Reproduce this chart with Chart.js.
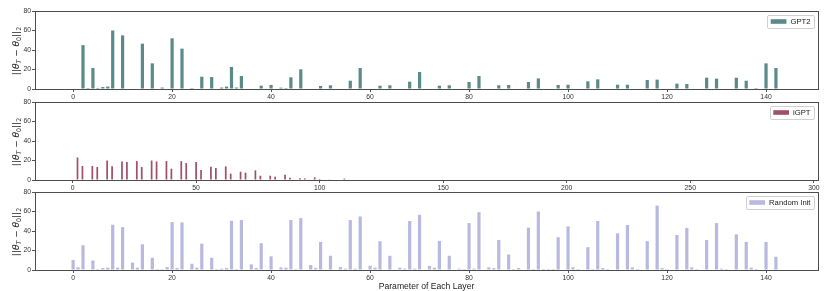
<!DOCTYPE html>
<html>
<head>
<meta charset="utf-8">
<script src="https://cdn.jsdelivr.net/npm/chart.js@4.4.1/dist/chart.umd.min.js"></script>
<style>
html,body{margin:0;padding:0;background:#ffffff;}
#wrap{position:relative;width:830px;height:291px;overflow:hidden;}
canvas{position:absolute;left:0;top:0;}
</style>
</head>
<body>
<div id="wrap">
<canvas id="c1" width="830" height="291"></canvas>
<canvas id="c2" width="830" height="291"></canvas>
<canvas id="c3" width="830" height="291"></canvas>
</div>
<script>
// ---------------- DATA ----------------
const seriesNames = ['GPT2', 'iGPT', 'Random Init'];
const xTitle = 'Parameter of Each Layer';
const yTicks = [0, 20, 40, 60, 80];
const xTicksShort = [0, 20, 40, 60, 80, 100, 120, 140];
const xTicksLong = [0, 50, 100, 150, 200, 250, 300];

const gpt2Values = [
  0.5, 0, 45, 1, 21.5, 1, 2, 2.5, 60, 0.5, 55, 0,
  0.5, 0, 46.5, 0.5, 26.3, 0, 1.5, 0.5, 52, 0.5, 41.4, 0,
  1, 0, 12.6, 0.5, 12.3, 0.5, 1.5, 2.5, 22.6, 1.5, 13.3, 0,
  0, 0, 3.4, 0, 4.2, 0.5, 1.4, 1, 12, 0, 20.2, 0,
  0, 0, 3.1, 0, 3.8, 0.5, 0.5, 0.5, 8.5, 0, 21.5, 0,
  0, 0, 3.4, 0, 3.8, 0.5, 0.5, 0, 7.5, 0, 17.4, 0,
  0, 0, 3.4, 0, 3.8, 0.5, 0.5, 0, 7.2, 0, 13.3, 0,
  0, 0, 3.8, 0, 4.1, 0.5, 0.5, 0, 7.2, 0, 10.9, 0,
  0, 0, 4.1, 0, 4.4, 0.5, 0.5, 0, 7.9, 0, 9.9, 0,
  0, 0, 4.4, 0, 4.4, 0.5, 0.5, 0, 9.2, 0, 9.6, 0,
  0, 0, 5.5, 0, 5.1, 0.5, 0.5, 0, 11.6, 0, 10.6, 0,
  0.5, 0, 11.6, 0, 8.5, 0, 1, 0, 26.3, 0, 21.5, 0
];

const igptValues = [
  0, 0, 23.1, 0, 14.3, 0, 0, 0, 14.3, 0, 13.3, 0,
  0, 0, 20, 0, 14, 0, 0, 0, 19, 0, 18.4, 0,
  0, 0, 19.4, 0, 13.3, 0, 0, 0, 20, 0, 19, 0,
  0, 0, 19.4, 0, 11.6, 0, 0, 0, 19.4, 0, 17.4, 0,
  0, 0, 18.4, 0, 10.2, 0, 0, 0, 13.6, 0, 12.3, 0,
  0, 0, 14, 0, 6.5, 0, 0, 0, 8.5, 0, 7.5, 0,
  0, 0, 9.9, 0, 4.4, 0, 0, 0, 4.4, 0, 3.4, 0,
  0, 0, 5.4, 0, 2.4, 0, 0, 0, 1.7, 0, 1.7, 0,
  0, 0, 2.7, 0, 1, 0, 0, 0, 0.7, 0, 0, 0,
  0, 0, 1.4, 0, 0, 0, 0, 0, 0, 0, 0, 0,
  0, 0, 0, 0, 0, 0, 0, 0, 0, 0, 0, 0,
  0, 0, 0, 0, 0, 0, 0, 0, 0, 0, 0, 0,
  0, 0, 0, 0, 0, 0, 0, 0, 0, 0, 0, 0,
  0, 0, 0, 0, 0, 0, 0, 0, 0, 0, 0, 0,
  0, 0, 0, 0, 0, 0, 0, 0, 0, 0, 0, 0,
  0, 0, 0, 0, 0, 0, 0, 0, 0, 0, 0, 0,
  0, 0, 0, 0, 0, 0, 0, 0, 0, 0, 0, 0,
  0, 0, 0, 0, 0, 0, 0, 0, 0, 0, 0, 0,
  0, 0, 0, 0, 0, 0, 0, 0, 0, 0, 0, 0,
  0, 0, 0, 0, 0, 0, 0, 0, 0, 0, 0, 0,
  0, 0, 0, 0, 0, 0, 0, 0, 0, 0, 0, 0,
  0, 0, 0, 0, 0, 0, 0, 0, 0, 0, 0, 0,
  0, 0, 0, 0, 0, 0, 0, 0, 0, 0, 0, 0,
  0, 0, 0, 0, 0, 0, 0, 0, 0, 0, 0, 0
];

const randomInitValues = [
  10.2, 2.7, 25.4, 0, 9.8, 1, 2, 2.4, 46.4, 2.4, 44, 0,
  7.5, 2.4, 26.4, 0, 12.5, 1, 1, 3, 49.2, 2, 48.8, 0,
  6.4, 2.4, 27.1, 0, 12.5, 1, 1.4, 2, 50.5, 1, 51.2, 0,
  5.8, 2, 27.5, 0, 14, 0, 2.7, 2.4, 51.2, 1, 53.2, 0,
  5.1, 2, 28.8, 0, 14.6, 0, 3, 1.4, 51.2, 1.4, 54.9, 0,
  4.4, 2.4, 29.5, 0, 14.6, 0, 2.4, 1.4, 50.2, 1.4, 56.6, 0,
  4.1, 2.4, 29.8, 0, 14.6, 0, 1.4, 1, 48.1, 1.4, 59.3, 0,
  2.7, 2, 30.8, 0, 15.9, 1, 2, 0, 43.4, 1, 60, 1,
  1, 1, 33.6, 0, 44.7, 2.7, 1, 0, 23.4, 1, 50.2, 2,
  1, 0, 37.6, 0, 46.1, 2.7, 1, 0, 29.5, 0, 66.1, 2,
  1, 0, 35.9, 0, 43, 2.7, 1, 0, 30.8, 0, 48.1, 1.4,
  1, 0, 36.6, 0, 28.8, 2.4, 1, 0, 28.8, 0, 13.6, 0
];

const seriesColors = ['#5b8b88', '#a0506e', '#b9b9e0'];

// ---------------- PLUGINS ----------------
const framePlugin = {
  id: 'frame',
  afterDraw(chart) {
    const a = chart.chartArea, ctx = chart.ctx;
    ctx.save();
    ctx.strokeStyle = '#4d4d4d';
    ctx.lineWidth = 1;
    ctx.strokeRect(Math.floor(a.left) + 0.5, Math.floor(a.top) + 0.5,
                   Math.round(a.right - a.left), Math.round(a.bottom - a.top));
    ctx.restore();
  }
};

const boxLegendPlugin = {
  id: 'boxLegend',
  afterDraw(chart) {
    const ds = chart.data.datasets[0];
    const a = chart.chartArea, ctx = chart.ctx;
    ctx.save();
    ctx.font = '7.7px "Liberation Sans", Arial, sans-serif';
    const tw = ctx.measureText(ds.label).width;
    const h = 13, right = a.right - 4, top = a.top + 4;
    const w = tw + 3.3 + 15.7 + 4 + 3.5;
    const left = right - w;
    ctx.fillStyle = 'rgba(255,255,255,0.85)';
    ctx.strokeStyle = '#d0d0d0';
    ctx.lineWidth = 1;
    ctx.beginPath();
    if (ctx.roundRect) ctx.roundRect(Math.round(left) + 0.5, Math.round(top) + 0.5, Math.round(w), h, 1.5);
    else ctx.rect(Math.round(left) + 0.5, Math.round(top) + 0.5, Math.round(w), h);
    ctx.fill(); ctx.stroke();
    ctx.fillStyle = ds.backgroundColor;
    ctx.fillRect(left + 3.3, top + 4.2, 15.7, 4.6);
    ctx.fillStyle = '#222';
    ctx.textBaseline = 'middle';
    ctx.textAlign = 'left';
    ctx.fillText(ds.label, left + 3.3 + 15.7 + 4, top + h / 2 + 0.5);
    ctx.restore();
  }
};

const yLabelPlugin = {
  id: 'yLabel',
  afterDraw(chart) {
    const a = chart.chartArea, ctx = chart.ctx;
    const fs = 9;
    const parts = [
      ['||', false, false], ['θ', true, false], ['T', true, true],
      [' − ', false, false], ['θ', true, false], ['0', false, true],
      ['||', false, false], ['2', false, true]
    ];
    const fam = '"DejaVu Sans", sans-serif';
    const fontFor = p => (p[1] ? 'italic ' : '') + (p[2] ? fs * 0.7 : fs) + 'px ' + fam;
    ctx.save();
    let total = 0;
    const widths = parts.map(p => { ctx.font = fontFor(p); const m = ctx.measureText(p[0]).width; total += m; return m; });
    ctx.translate(16.5, (a.top + a.bottom) / 2 + 1);
    ctx.rotate(-Math.PI / 2);
    ctx.fillStyle = '#222';
    ctx.textBaseline = 'alphabetic';
    ctx.textAlign = 'left';
    let x = -total / 2;
    parts.forEach((p, i) => {
      ctx.font = fontFor(p);
      ctx.fillText(p[0], x, fs * 0.33 + (p[2] ? fs * 0.22 : 0));
      x += widths[i];
    });
    ctx.restore();
  }
};

// ---------------- CHARTS ----------------
function makePanel(id, label, values, color, xr, xTicks, area, showTitle, barPct) {
  const pts = values.map((v, i) => ({ x: i, y: v }));
  return new Chart(document.getElementById(id), {
    type: 'bar',
    data: { datasets: [{ label: label, data: pts, backgroundColor: color, borderWidth: 0,
      barPercentage: barPct, categoryPercentage: 1 }] },
    options: {
      responsive: false, animation: false, devicePixelRatio: 1,
      layout: { padding: { left: 0, right: 12, top: area.top, bottom: area.bottom } },
      plugins: { legend: { display: false }, tooltip: { enabled: false } },
      scales: {
        x: {
          type: 'linear', min: xr[0], max: xr[1], offset: false,
          afterBuildTicks: s => { s.ticks = xTicks.map(v => ({ value: v })); },
          afterFit: s => { s.height = area.xh; },
          grid: { display: true, offset: false, drawOnChartArea: false, drawTicks: true, tickLength: 3, color: '#555', lineWidth: 1 },
          border: { display: false },
          ticks: { font: { family: '"Liberation Sans", Arial, sans-serif', size: 6.8 }, color: '#333', padding: 1, maxRotation: 0, autoSkip: false },
          title: showTitle ? { display: true, text: xTitle, color: '#222',
            font: { family: '"Liberation Sans", Arial, sans-serif', size: 8.6 }, padding: { top: 0, bottom: -1 } } : { display: false }
        },
        y: {
          min: 0, max: 80,
          afterBuildTicks: s => { s.ticks = yTicks.map(v => ({ value: v })); },
          afterFit: s => { s.width = 35; },
          grid: { display: true, drawOnChartArea: false, drawTicks: true, tickLength: 3, color: '#555', lineWidth: 1 },
          border: { display: false },
          ticks: { font: { family: '"Liberation Sans", Arial, sans-serif', size: 6.8 }, color: '#333', padding: 1 }
        }
      }
    },
    plugins: [framePlugin, boxLegendPlugin, yLabelPlugin]
  });
}

makePanel('c1', seriesNames[0], gpt2Values, seriesColors[0], [-7.7, 150.5], xTicksShort,
  { top: 11, bottom: 182, xh: 20 }, false, 0.65);
makePanel('c2', seriesNames[1], igptValues, seriesColors[1], [-15.2, 301.7], xTicksLong,
  { top: 102, bottom: 91, xh: 20 }, false, 0.7);
makePanel('c3', seriesNames[2], randomInitValues, seriesColors[2], [-7.7, 150.5], xTicksShort,
  { top: 192, bottom: 0, xh: 21 }, true, 0.65);
</script>
</body>
</html>
